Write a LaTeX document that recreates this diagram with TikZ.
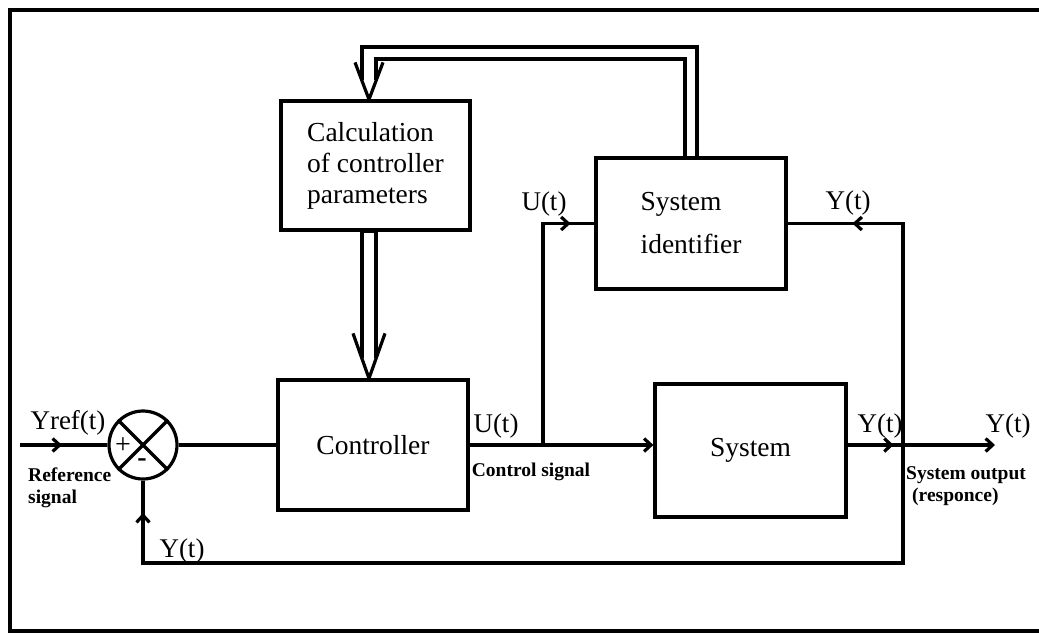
\documentclass[tikz,border=0pt]{standalone}
\usepackage{fontspec}
\setmainfont{Liberation Serif}
\usetikzlibrary{arrows.meta, decorations.markings}

\tikzset{
  wire/.style={line width=3.2pt},
  block/.style={draw, line width=3.2pt, align=left, font=\fontsize{27.5}{31}\selectfont},
  lbl/.style={inner sep=0pt, font=\fontsize{27}{31}\selectfont},
  note/.style={inner sep=0pt, align=left, font=\bfseries\fontsize{19.5}{22}\selectfont},
  tip/.style={-{Straight Barb[length=7pt, width=13pt]}},
  midarrow/.style={postaction={decorate}, decoration={markings,
      mark=at position #1 with {\arrow{Straight Barb[length=7pt, width=13pt]}}}},
}

\begin{document}
\begin{tikzpicture}[x=1pt, y=-1pt]
    \useasboundingbox (0,0) rectangle (1039,633);

    % Frame
    \draw[wire] (1039,10) -- (10,10) -- (10,631) -- (1039,631);

    % Blocks
    \node[block, minimum width=189pt, minimum height=129pt] (calc) at (375.5,165.5)
        {Calculation\\of controller\\parameters};
    \node[block, minimum width=190pt, minimum height=131pt] (ident) at (691,223.5)
        {System\\[12pt]identifier};
    \node[block, minimum width=190pt, minimum height=130pt] (ctrl) at (373,445)
        {Controller};
    \node[block, minimum width=191pt, minimum height=133pt] (sys) at (750.5,450.5)
        {System};

    % Summing junction
    \node[circle, draw, line width=3.2pt, minimum size=68pt, inner sep=0pt] (sum) at (143,445) {};
    \draw[wire] (sum.north west) -- (sum.south east)
                (sum.north east) -- (sum.south west);
    \node[lbl, font=\fontsize{28}{30}\selectfont] (plus) at (123,446) {+};
    \node[lbl, font=\bfseries\fontsize{28}{30}\selectfont] (minus) at (142,463) {-};

    % Branch points
    \coordinate (yin) at (20,445);
    \coordinate (tapU) at (543,445);
    \coordinate (tapY) at (903,445);
    \coordinate (yout) at (995,445);
    \coordinate (fbk) at (903,563);

    % Signal wires
    \draw[wire, midarrow=0.48] (yin) -- (sum.west);
    \draw[wire] (sum.east) -- (ctrl.west);
    \draw[wire, tip] (ctrl.east) -- (sys.west |- ctrl.east);
    \draw[wire, midarrow=249pt] (tapU) |- (ident.west);
    \draw[wire, tip] (sys.east |- tapY) -- (yout);
    \draw[wire, midarrow=46pt] (sys.east |- tapY) -- (tapY);
    \draw[wire, midarrow=272pt] (tapY) |- (ident.east);
    \draw[wire, midarrow=928pt] (tapY) -- (fbk) -| (sum.south);

    % Double link: identifier -> calculation
    \coordinate (tipA) at ([xshift=-6.5pt]calc.north);
    \coordinate (bendO) at (362,47);
    \coordinate (bendI) at (376,59);
    \draw[wire] ([xshift=6pt]ident.north) |- (bendO) -- ([xshift=-7pt, yshift=19pt]tipA);
    \draw[wire] ([xshift=-6pt]ident.north) |- (bendI) -- ([xshift=7pt, yshift=19pt]tipA);
    \draw[wire, line join=round] (tipA) ++(-14,-37) -- (tipA) -- ++(14,-37);

    % Double link: calculation -> controller
    \coordinate (tipB) at ([xshift=-4pt]ctrl.north);
    \draw[wire] ([xshift=-7pt, yshift=20pt]tipB) |- (calc.south);
    \draw[wire] ([xshift=7pt, yshift=20pt]tipB) |- (calc.south);
    \draw[wire, line join=round] (tipB) ++(-16,-45) -- (tipB) -- ++(16,-45);

    % Labels
    \node[lbl] (lYref) at (68,423) {Yref(t)};
    \node[note, anchor=west] (lRef) at (28,488) {Reference\\signal};
    \node[lbl] (lUc) at (496,426) {U(t)};
    \node[note] (lCtrl) at (531,472) {Control signal};
    \node[lbl] (lUi) at (544,204) {U(t)};
    \node[lbl] (lYi) at (848,203) {Y(t)};
    \node[lbl] (lYs) at (880,426) {Y(t)};
    \node[lbl] (lYo) at (1008,426) {Y(t)};
    \node[lbl] (lYf) at (182,551) {Y(t)};
    \node[note, anchor=west] (lOut) at (906,486) {System output\\\hspace*{6pt}(responce)};
\end{tikzpicture}
\end{document}
